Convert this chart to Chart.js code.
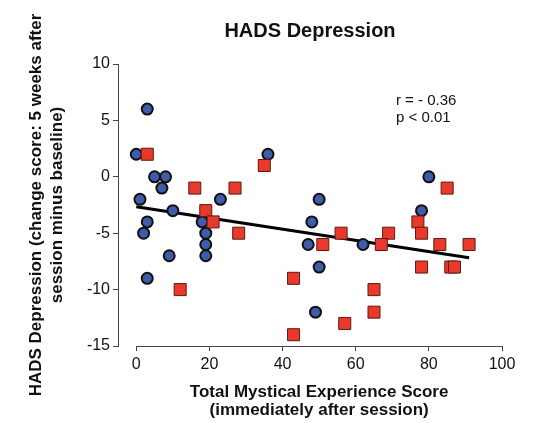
<!DOCTYPE html>
<html>
<head>
<meta charset="utf-8">
<script src="https://cdn.jsdelivr.net/npm/chart.js@4.4.1/dist/chart.umd.min.js"></script>
<style>
  html, body { margin: 0; padding: 0; background: #fff; }
  #wrap { width: 542px; height: 423px; }
</style>
</head>
<body>
<div id="wrap"><canvas id="hadsChart"></canvas></div>
<script>
// blue circles and red squares: mystical experience score vs HADS change
const blueX = [3, 0, 5, 8, 7, 1, 23, 10, 3, 18, 2, 19, 19, 19, 9, 3, 36, 50, 48, 47, 62, 50, 49, 80, 78];
const blueY = [6, 2, 0, 0, -1, -2, -2, -3, -4, -4, -5, -5, -6, -7, -7, -9, 2, -2, -4, -6, -6, -8, -12, 0, -3];
const redX = [3, 16, 27, 19, 21, 28, 12, 35, 51, 56, 43, 57, 43, 65, 65, 69, 67, 85, 77, 78, 83, 91, 78, 86, 87];
const redY = [2, -1, -1, -3, -4, -5, -10, 1, -6, -5, -9, -13, -14, -10, -12, -5, -6, -1, -4, -5, -6, -6, -8, -8, -8];
const fitX = [0, 91];
const fitY = [-2.66, -7.18];
const xTicks = [0, 20, 40, 60, 80, 100];
const yTicks = [10, 5, 0, -5, -10, -15];
const statsLines = ['r = - 0.36', 'p < 0.01'];
const xTitle = ['Total Mystical Experience Score', '(immediately after session)'];
const yTitle = ['HADS Depression (change score: 5 weeks after', 'session minus baseline)'];

const toPoints = (xs, ys) => xs.map((v, i) => ({ x: v, y: ys[i] }));

Chart.defaults.font.family = '"Liberation Sans", Arial, Helvetica, sans-serif';
Chart.defaults.color = '#111';

// x axis line only spans 0..100, plus x title and the r/p note
const axisExtras = {
    id: 'axisExtras',
    afterDraw(chart) {
        const { ctx, chartArea } = chart;
        const x = chart.scales.x;
        const y = chart.scales.y;
        const left = x.getPixelForValue(xTicks[0]);
        const right = x.getPixelForValue(xTicks[xTicks.length - 1]);
        const base = Math.round(chartArea.bottom) + 0.5;

        ctx.save();
        ctx.strokeStyle = '#444';
        ctx.lineWidth = 1;
        ctx.beginPath();
        ctx.moveTo(left, base);
        ctx.lineTo(right, base);
        ctx.stroke();

        ctx.fillStyle = '#111';
        ctx.textAlign = 'center';
        ctx.textBaseline = 'middle';
        ctx.font = 'bold 17px "Liberation Sans", Arial, sans-serif';
        const mid = (left + right) / 2;
        ctx.fillText(xTitle[0], mid, x.top + 46);
        ctx.fillText(xTitle[1], mid, x.top + 64.5);

        ctx.textAlign = 'left';
        ctx.font = '15px "Liberation Sans", Arial, sans-serif';
        const sx = x.getPixelForValue(71);
        const sy = y.getPixelForValue(6.7);
        ctx.fillText(statsLines[0], sx, sy);
        ctx.fillText(statsLines[1], sx, sy + 17);
        ctx.restore();
    }
};

new Chart(document.getElementById('hadsChart'), {
    type: 'scatter',
    data: {
        datasets: [
            {
                label: 'Red',
                data: toPoints(redX, redY),
                pointStyle: 'rect',
                pointRadius: 8.5,
                backgroundColor: '#E8392B',
                borderColor: '#5C1A12',
                borderWidth: 1,
                order: 0
            },
            {
                label: 'Blue',
                data: toPoints(blueX, blueY),
                pointStyle: 'circle',
                pointRadius: 5.5,
                backgroundColor: '#3F5CAB',
                borderColor: '#111',
                borderWidth: 2,
                order: 1
            },
            {
                label: 'Fit',
                data: toPoints(fitX, fitY),
                showLine: true,
                borderColor: '#000',
                borderWidth: 3,
                pointRadius: 0,
                order: 2
            }
        ]
    },
    options: {
        responsive: true,
        maintainAspectRatio: false,
        animation: false,
        devicePixelRatio: 1,
        layout: { padding: { left: 0, right: 40, top: 0, bottom: 0 } },
        scales: {
            x: {
                type: 'linear',
                min: -5,
                max: 100,
                afterBuildTicks(scale) {
                    scale.ticks = xTicks.map(v => ({ value: v }));
                },
                afterFit(scale) {
                    scale.height = 77;
                },
                border: { display: false },
                grid: { drawOnChartArea: false, drawTicks: true, tickLength: 5, color: '#444' },
                ticks: { font: { size: 16 }, color: '#111', padding: 4, maxRotation: 0 },
                title: { display: false }
            },
            y: {
                type: 'linear',
                min: -15,
                max: 10,
                afterBuildTicks(scale) {
                    scale.ticks = yTicks.map(v => ({ value: v }));
                },
                afterFit(scale) {
                    scale.width = 118;
                },
                border: { display: true, color: '#444', width: 1 },
                grid: { drawOnChartArea: false, drawTicks: true, tickLength: 5, color: '#444' },
                ticks: { font: { size: 16 }, color: '#111', padding: 3 },
                title: {
                    display: true,
                    text: yTitle,
                    color: '#111',
                    font: { size: 17, weight: 'bold', lineHeight: 1.2 },
                    padding: { top: 26.5, bottom: 0 }
                }
            }
        },
        plugins: {
            legend: { display: false },
            tooltip: { enabled: false },
            title: {
                display: true,
                text: 'HADS Depression',
                fullSize: false,
                color: '#111',
                font: { size: 20, weight: 'bold', lineHeight: 1.2 },
                padding: { top: 19, bottom: 21 }
            }
        }
    },
    plugins: [axisExtras]
});
</script>
</body>
</html>
